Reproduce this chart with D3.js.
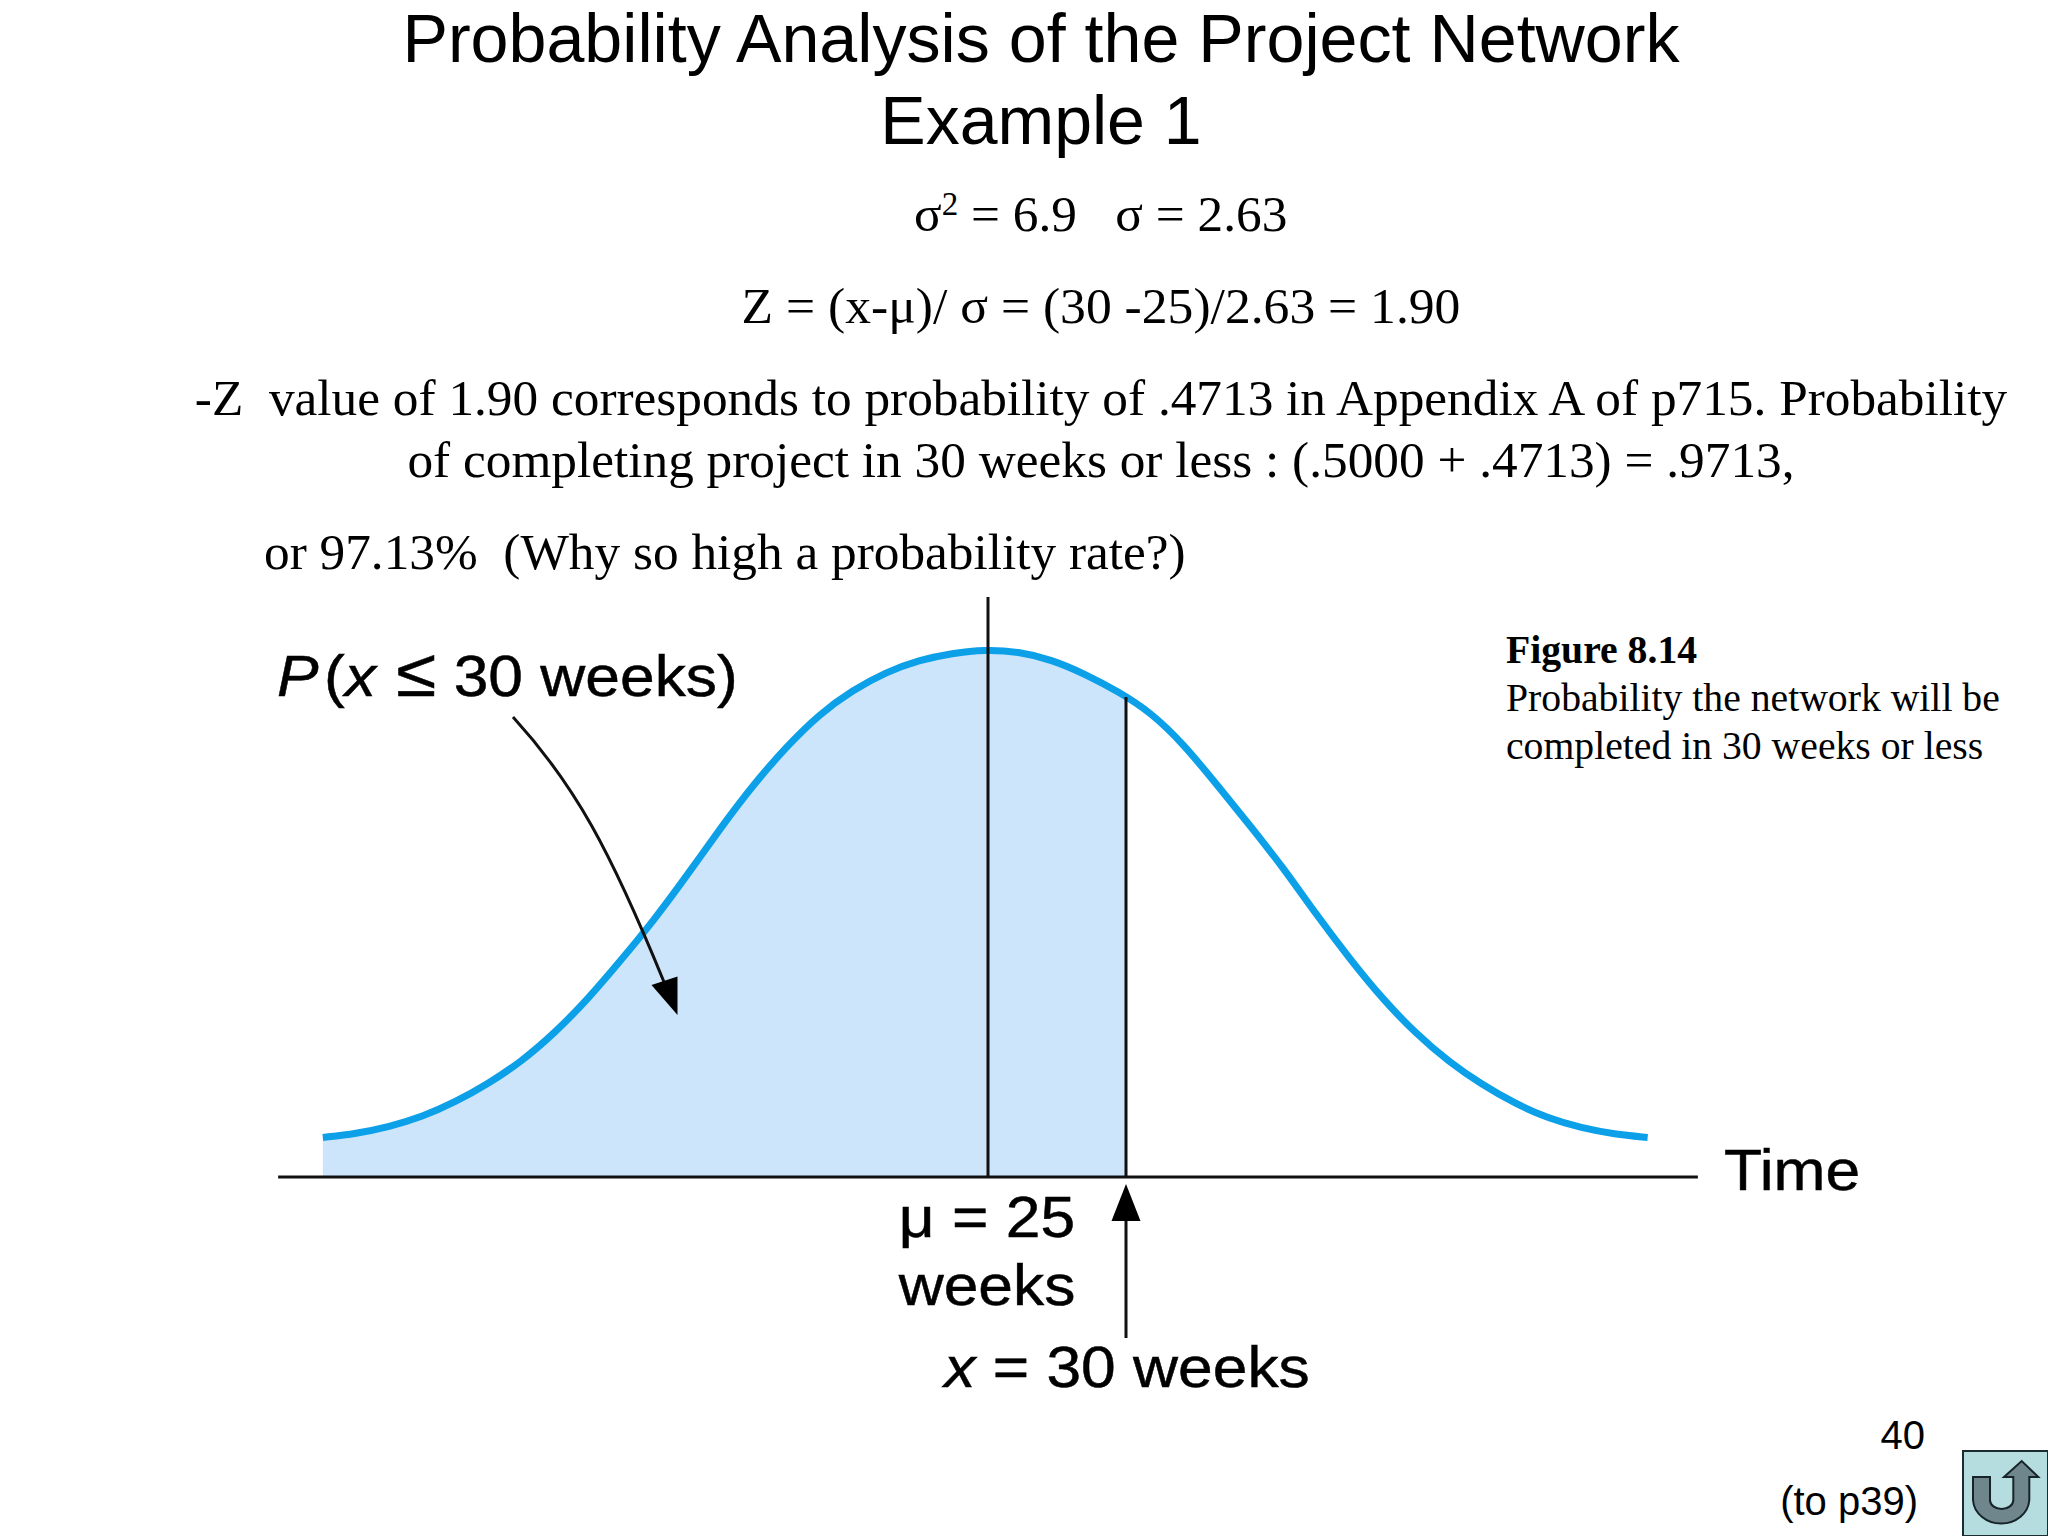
<!DOCTYPE html>
<html>
<head>
<meta charset="utf-8">
<style>
body { margin: 0; background: #fff; }
svg { display: block; }
</style>
<script src="https://cdn.jsdelivr.net/npm/d3@7"></script>
</head>
<body>
<script>
// values
const weeks = [0.9, 2.1, 3.3, 4.5, 5.7, 6.9, 8.1, 9.3, 10.5, 11.7, 12.9, 14.1, 15.3, 16.5, 17.7, 18.9, 20.1, 21.3, 22.5, 23.7, 24.9, 26.1, 27.3, 28.5, 29.7, 30.9, 32.1, 33.3, 34.5, 35.7, 36.9, 38.1, 39.3, 40.5, 41.7, 42.9, 44.1, 45.3, 46.5, 47.7, 48.9];
const density = [0.075, 0.082, 0.095, 0.114, 0.142, 0.177, 0.219, 0.273, 0.337, 0.411, 0.487, 0.572, 0.661, 0.744, 0.816, 0.878, 0.923, 0.957, 0.98, 0.993, 1, 0.996, 0.981, 0.954, 0.921, 0.881, 0.82, 0.743, 0.666, 0.586, 0.497, 0.414, 0.337, 0.272, 0.218, 0.175, 0.139, 0.111, 0.093, 0.081, 0.075];
const axisWeeks = [-0.72, 50.72];
const mu = 25;
const xValue = 30;

const titleLines = ["Probability Analysis of the Project Network", "Example 1"];
const zLine = "Z = (x-μ)/ σ = (30 -25)/2.63 = 1.90";
const noteLines = ["-Z  value of 1.90 corresponds to probability of .4713 in Appendix A of p715. Probability", "of completing project in 30 weeks or less : (.5000 + .4713) = .9713,"];
const lastLine = "or 97.13%  (Why so high a probability rate?)";
const captionLines = ["Probability the network will be", "completed in 30 weeks or less"];

const sans = "'Liberation Sans', Arial, sans-serif";
const serif = "'Liberation Serif', 'Times New Roman', serif";

const svg = d3.select("body").append("svg").attr("width", 2048).attr("height", 1536);

// scales
const x = d3.scaleLinear().domain([25, 30]).range([988, 1126]);
const y = d3.scaleLinear().domain([0, 1]).range([1177, 649.5]);

const points = weeks.map((w, i) => ({ w: w, d: density[i] }));

// shaded part, cut at 30 weeks
svg.append("clipPath").attr("id", "upTo30").append("rect")
  .attr("x", 0).attr("y", 0).attr("width", x(xValue)).attr("height", 1536);
const area = d3.area().x(d => x(d.w)).y0(y(0)).y1(d => y(d.d)).curve(d3.curveBasis);
svg.append("path").datum(points)
  .attr("d", area).attr("fill", "#cde5fa").attr("clip-path", "url(#upTo30)");

// bell curve
const line = d3.line().x(d => x(d.w)).y(d => y(d.d)).curve(d3.curveBasis);
svg.append("path").datum(points)
  .attr("d", line).attr("fill", "none").attr("stroke", "#0ca0e8").attr("stroke-width", 7);

// time axis
svg.append("line").attr("x1", x(axisWeeks[0])).attr("x2", x(axisWeeks[1]))
  .attr("y1", y(0)).attr("y2", y(0)).attr("stroke", "#111").attr("stroke-width", 3);

// vertical lines
svg.append("line").attr("x1", x(mu)).attr("x2", x(mu)).attr("y1", 597).attr("y2", y(0))
  .attr("stroke", "#111").attr("stroke-width", 3);
svg.append("line").attr("x1", x(xValue)).attr("x2", x(xValue)).attr("y1", 697).attr("y2", y(0))
  .attr("stroke", "#111").attr("stroke-width", 3);

// arrow under the axis
svg.append("line").attr("x1", x(xValue)).attr("x2", x(xValue)).attr("y1", 1218).attr("y2", 1338)
  .attr("stroke", "#111").attr("stroke-width", 3);
svg.append("path").attr("d", `M${x(xValue)},1184 L${x(xValue) + 14.5},1221 L${x(xValue) - 14.5},1221 Z`).attr("fill", "#000");

// curved arrow
svg.append("path").attr("d", "M513,717 C575,785 610,850 664,982")
  .attr("fill", "none").attr("stroke", "#111").attr("stroke-width", 3);
svg.append("path").attr("d", "M677.5,1015 L651.5,985 L677.5,976.5 Z").attr("fill", "#000");

// helper for the texts
function label(txt, px, py, size, family, anchor) {
  return svg.append("text").attr("x", px).attr("y", py)
    .attr("font-size", size).attr("font-family", family)
    .attr("text-anchor", anchor || "start").attr("fill", "#000")
    .style("white-space", "pre").text(txt);
}

// the labels of the figure are a bit wider and heavier than the font
function figLabel(px, py, anchor) {
  return svg.append("text").attr("transform", `translate(${px},${py}) scale(1.075,1)`)
    .attr("font-size", 58).attr("font-family", sans)
    .attr("text-anchor", anchor || "start").attr("fill", "#000")
    .attr("stroke", "#000").attr("stroke-width", 0.5)
    .style("white-space", "pre");
}

// title
label(titleLines[0], 1041, 62, 68.2, sans, "middle");
label(titleLines[1], 1041, 143.5, 68, sans, "middle");

// formulas
const sigma = label("", 914, 231, 51.3, serif);
sigma.append("tspan").text("σ");
sigma.append("tspan").text("2").attr("font-size", 33).attr("dy", -16);
sigma.append("tspan").text(" = 6.9   σ = 2.63").attr("dy", 16);
label(zLine, 1101, 323, 51.6, serif, "middle");
label(noteLines[0], 1101, 415, 51.3, serif, "middle");
label(noteLines[1], 1101, 477, 51.3, serif, "middle");
label(lastLine, 264, 569, 51.3, serif);

// figure caption
label("Figure 8.14", 1506, 663, 39.7, serif).attr("font-weight", "bold");
label(captionLines[0], 1506, 711, 39.7, serif);
label(captionLines[1], 1506, 759, 39.7, serif);

// labels of the chart
const p = figLabel(277, 696);
p.append("tspan").text("P").attr("font-style", "italic");
p.append("tspan").text("(").attr("dx", 5);
p.append("tspan").text("x").attr("font-style", "italic");
p.append("tspan").text(" ≤").attr("font-size", 68);
p.append("tspan").text(" 30 weeks)");
figLabel(1724, 1190).text("Time");
figLabel(987, 1237, "middle").text("μ = 25");
figLabel(987, 1305, "middle").text("weeks");
const xl = figLabel(1127, 1387, "middle");
xl.append("tspan").text("x").attr("font-style", "italic");
xl.append("tspan").text(" = 30 weeks");

// page number and link
label("40", 1925, 1449, 40, sans, "end");
label("(to p39)", 1918, 1515, 40, sans, "end");

// return button
svg.append("rect").attr("x", 1963).attr("y", 1451).attr("width", 85).attr("height", 85)
  .attr("fill", "#b5dcdf").attr("stroke", "#1c2b30").attr("stroke-width", 2);
svg.append("path")
  .attr("d", "M1973,1477 H1990 V1500 A11.6,9 0 0 0 2013.3,1500 V1477 H2004 L2021.7,1461 L2038.3,1477 H2029.3 V1500 A28.2,25 0 0 1 1973,1500 Z")
  .attr("fill", "#6f878c").attr("stroke", "#16242a").attr("stroke-width", 2);
</script>
</body>
</html>
